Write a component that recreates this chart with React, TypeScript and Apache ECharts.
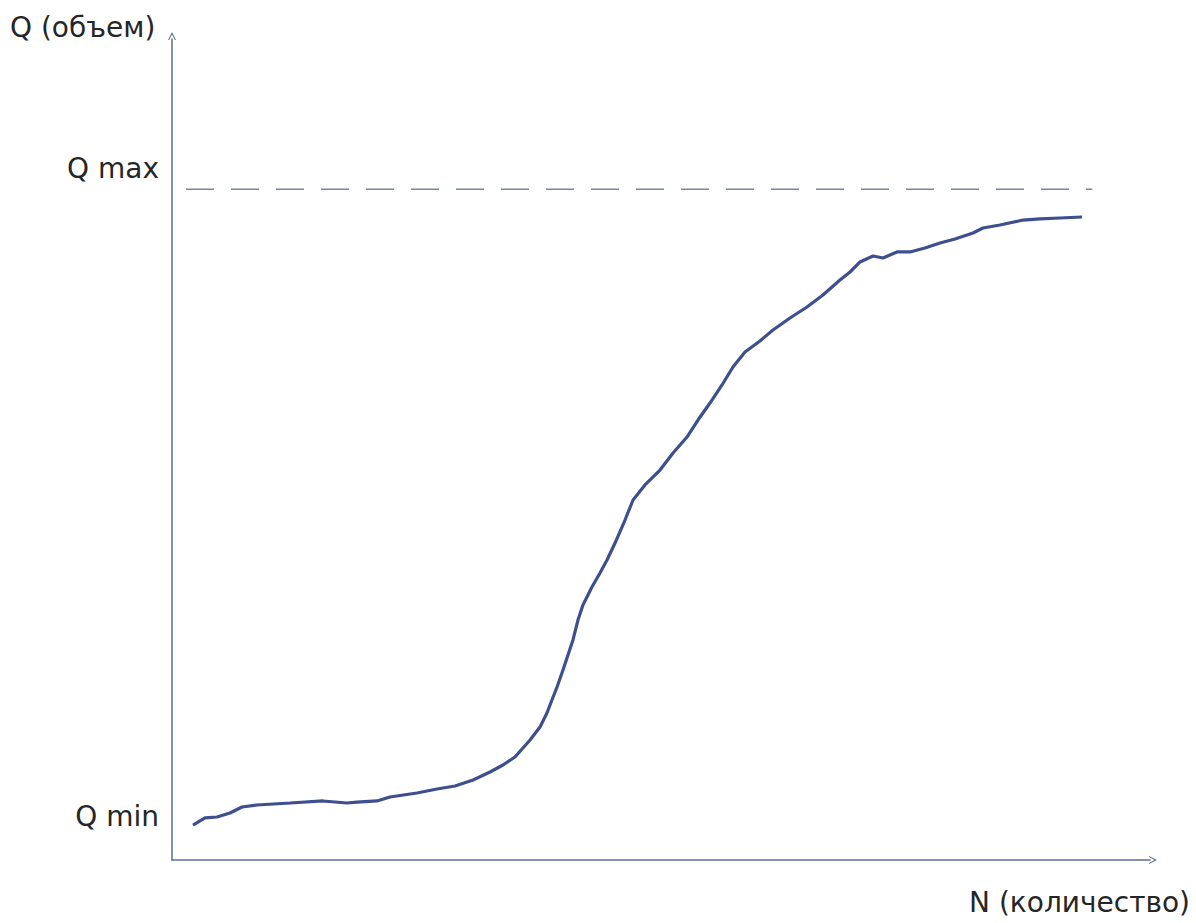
import React, { useEffect, useRef } from "react";
import * as echarts from "echarts";

// Curve: N (count) vs Q (volume) (axis units 0..100)
const curveN = [
  2.15, 3.37, 4.6, 5.93, 7.16, 8.69, 12.07, 15.44, 17.89, 18.92, 20.96, 22.29, 25.05, 27.1,
  28.94, 30.78, 32.52, 33.84, 35.07, 36.61, 37.63, 38.34, 38.85, 39.37, 39.98, 40.49, 41.0,
  41.51, 42.02, 42.94, 43.76, 44.48, 45.3, 46.32, 47.14, 48.36, 49.9, 51.23, 52.66, 53.78,
  55.01, 56.24, 57.36, 58.59, 60.12, 61.45, 63.19, 64.93, 66.56, 68.3, 69.33, 70.35, 71.68,
  72.7, 74.13, 75.46, 76.99, 78.53, 80.06, 81.9, 82.92, 84.66, 87.01, 88.75, 90.8, 93.05,
];
const curveQ = [
  4.26, 5.12, 5.24, 5.72, 6.46, 6.7, 6.94, 7.19, 6.94, 7.06, 7.19, 7.67, 8.16, 8.65, 9.01,
  9.74, 10.72, 11.57, 12.55, 14.62, 16.2, 17.9, 19.49, 21.07, 23.14, 24.97, 26.8, 29.23,
  31.06, 33.25, 34.96, 36.54, 38.61, 41.41, 43.85, 45.68, 47.5, 49.57, 51.52, 53.59, 55.66,
  57.86, 60.05, 61.88, 63.22, 64.56, 66.02, 67.36, 68.82, 70.65, 71.62, 72.84, 73.57, 73.33,
  74.06, 74.06, 74.54, 75.15, 75.64, 76.37, 76.98, 77.34, 77.95, 78.08, 78.2, 78.32,
];
const qMaxLevel = 81.7;
const qMaxSpan = [1.43, 94.1];

const yAxisName = "Q (объем)";
const xAxisName = "N (количество)";
const levelLabels = ["Q max", "Q min"];

const AXIS_COLOR = "#5b6d9c";
const CURVE_COLOR = "#3d4f8e";
const DASH_COLOR = "#7483b0";
const FONT = "DejaVu Sans";
const TEXT_COLOR = "#262626";

const chevron = "path://M0,10 L5,0 L10,10 L8.6,10 L5,3 L1.4,10 Z";

export default function App() {
  const ref = useRef<HTMLDivElement>(null);
  useEffect(() => {
    if (!ref.current) return;
    const chart = echarts.init(ref.current, undefined, { renderer: "svg" });
    const axisCommon = {
      type: "value",
      min: 0,
      max: 100,
      axisLine: {
        show: true,
        lineStyle: { color: AXIS_COLOR, width: 1.5 },
        symbol: ["none", chevron],
        symbolSize: [13, 8],
        symbolOffset: [0, 3],
      },
      axisTick: { show: false },
      axisLabel: { show: false },
      splitLine: { show: false },
    };
    const font = `28px "${FONT}"`;
    chart.setOption({
      animation: false,
      backgroundColor: "#ffffff",
      grid: { left: 172, right: 46, top: 39, bottom: 63 },
      xAxis: { ...axisCommon },
      yAxis: { ...axisCommon },
      series: [
        {
          type: "line",
          data: [
            [qMaxSpan[0], qMaxLevel],
            [qMaxSpan[1], qMaxLevel],
          ],
          symbol: "none",
          lineStyle: { color: DASH_COLOR, width: 1.5, type: [28, 17] },
          silent: true,
        },
        {
          type: "line",
          data: curveN.map((n, i) => [n, curveQ[i]]),
          symbol: "none",
          lineStyle: { color: CURVE_COLOR, width: 3.2 },
          silent: true,
        },
      ],
      graphic: [
        {
          type: "text",
          left: 10,
          top: 13,
          style: { text: yAxisName, font, fill: TEXT_COLOR },
        },
        {
          type: "text",
          right: 1196 - 159,
          top: 154,
          style: { text: levelLabels[0], font, fill: TEXT_COLOR },
        },
        {
          type: "text",
          right: 1196 - 159,
          top: 802,
          style: { text: levelLabels[1], font, fill: TEXT_COLOR },
        },
        {
          type: "text",
          right: 6,
          top: 888,
          style: { text: xAxisName, font, fill: TEXT_COLOR },
        },
      ],
    });
    return () => chart.dispose();
  }, []);
  return (
    <div
      ref={ref}
      style={{ position: "absolute", left: 0, top: 0, width: 1196, height: 923 }}
    />
  );
}
